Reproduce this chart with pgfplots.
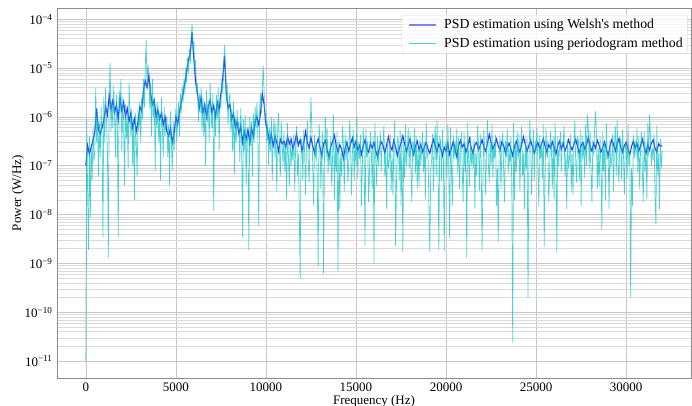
\documentclass[border=0pt]{standalone}
\usepackage{pgfplots}
\pgfplotsset{compat=1.18}
\usepackage{fontspec}
\setmainfont{Liberation Serif}

\definecolor{welchblue}{rgb}{0,0,1}
\definecolor{pgcyan}{rgb}{0,0.75,0.75}

\begin{document}
\fontsize{13}{15}\selectfont
\begin{tikzpicture}
\useasboundingbox (0,0) rectangle (692pt,406pt);
\begin{axis}[
    at={(57pt,28pt)}, anchor=south west,
    width=634pt, height=370pt, scale only axis,
    xmin=-1600, xmax=33600,
    ymode=log, ymin=4.5e-12, ymax=1.7e-4,
    xtick={0,5000,...,30000},
    scaled x ticks=false,
    xticklabel style={/pgf/number format/1000 sep={}, /pgf/number format/assume math mode=true},
    ytickten={-11,...,-4},
    yticklabels={10\textsuperscript{−11},10\textsuperscript{−10},10\textsuperscript{−9},10\textsuperscript{−8},10\textsuperscript{−7},10\textsuperscript{−6},10\textsuperscript{−5},10\textsuperscript{−4}},
    grid=both,
    major grid style={black!22, line width=0.6pt},
    minor grid style={black!14, line width=0.5pt},
    major tick length=0pt, minor tick length=0pt,
    axis line style={black!45, line width=0.8pt},
    xlabel={Frequency (Hz)}, ylabel={Power (W/Hz)},
    xlabel style={at={(axis description cs:0.5,-0.062)}, anchor=center},
    ylabel style={at={(axis description cs:-0.0615,0.5)}, anchor=center},
    legend style={at={(0.995,0.981)}, anchor=north east, draw=black!15,
        rounded corners=3pt, fill=white, fill opacity=0.8, text opacity=1,
        inner xsep=3pt, inner ysep=2pt, row sep=3pt, cells={anchor=west},
        font=\fontsize{13.8}{16}\selectfont},
    legend image code/.code={\draw[#1] (0pt,0pt) -- (27pt,0pt); \path (-3pt,0pt) (32pt,0pt);},
]
\addlegendimage{welchblue!50, line width=2.4pt}
\addlegendentry{PSD estimation using Welsh\textquotesingle s method}
\addlegendimage{pgcyan!70, line width=0.8pt}
\addlegendentry{PSD estimation using periodogram method}

% Welch estimate, 100 Hz spacing
\addplot[welchblue, opacity=0.8, line width=1.1pt, forget plot] coordinates {
(0,1.0e-7)(100,2.6e-7)(200,1.7e-7)(300,2.4e-7)(400,3.3e-7)(500,5.0e-7)(600,1.5e-6)(700,5.5e-7)(800,4.5e-7)(900,6.0e-7)
(1000,8.5e-7)(1100,1.6e-6)(1200,1.1e-6)(1300,2.8e-6)(1400,1.4e-6)(1500,2.2e-6)(1600,1.2e-6)(1700,1.8e-6)(1800,9.0e-7)(1900,2.5e-6)
(2000,1.3e-6)(2100,2.0e-6)(2200,1.0e-6)(2300,1.5e-6)(2400,8.0e-7)(2500,1.2e-6)(2600,6.0e-7)(2700,9.0e-7)(2800,5.0e-7)(2900,8.0e-7)
(3000,1.6e-6)(3100,1.3e-6)(3200,3.5e-6)(3300,5.5e-6)(3400,4.0e-6)(3500,7.0e-6)(3600,3.0e-6)(3700,1.8e-6)(3800,2.2e-6)(3900,1.0e-6)
(4000,1.4e-6)(4100,9.0e-7)(4200,1.2e-6)(4300,7.0e-7)(4400,1.0e-6)(4500,5.0e-7)(4600,4.0e-7)(4700,6.0e-7)(4800,3.0e-7)(4900,4.5e-7)
(5000,1.0e-6)(5100,7.0e-7)(5200,1.3e-6)(5300,2.0e-6)(5400,3.0e-6)(5500,5.0e-6)(5600,9.0e-6)(5700,1.5e-5)(5800,2.0e-5)(5900,5.5e-5)
(6000,1.5e-5)(6100,5.0e-6)(6200,3.0e-6)(6300,1.5e-6)(6400,2.5e-6)(6500,1.2e-6)(6600,1.8e-6)(6700,1.0e-6)(6800,1.6e-6)(6900,2.2e-6)
(7000,1.2e-6)(7100,1.7e-6)(7200,1.0e-6)(7300,2.0e-6)(7400,1.4e-6)(7500,3.0e-6)(7600,6.0e-6)(7700,1.8e-5)(7800,3.0e-6)(7900,1.5e-6)
(8000,1.8e-6)(8100,9.0e-7)(8200,1.2e-6)(8300,6.0e-7)(8400,8.0e-7)(8500,4.5e-7)(8600,6.5e-7)(8700,3.0e-7)(8800,5.0e-7)(8900,3.5e-7)
(9000,5.5e-7)(9100,3.0e-7)(9200,6.0e-7)(9300,4.0e-7)(9400,8.0e-7)(9500,1.0e-6)(9600,7.0e-7)(9700,1.2e-6)(9800,3.0e-6)(9900,1.8e-6)
(10000,7.0e-7)(10100,5.0e-7)(10200,3.0e-7)(10300,4.5e-7)(10400,2.5e-7)(10500,4.0e-7)(10600,3.0e-7)(10700,2.0e-7)(10800,3.5e-7)(10900,2.8e-7)
(11000,3.2e-7)(11100,2.4e-7)(11200,4.0e-7)(11300,2.8e-7)(11400,3.5e-7)(11500,2.2e-7)(11600,3.0e-7)(11700,4.5e-7)(11800,2.6e-7)(11900,3.4e-7)
(12000,2.0e-7)(12100,2.9e-7)(12200,5.0e-7)(12300,3.0e-7)(12400,2.3e-7)(12500,3.8e-7)(12600,2.5e-7)(12700,1.8e-7)(12800,2.7e-7)(12900,3.6e-7)
(13000,2.4e-7)(13100,1.6e-7)(13200,2.8e-7)(13300,3.3e-7)(13400,2.1e-7)(13500,1.5e-7)(13600,2.5e-7)(13700,3.1e-7)(13800,4.2e-7)(13900,2.6e-7)
(14000,1.9e-7)(14100,2.7e-7)(14200,2.2e-7)(14300,1.4e-7)(14400,2.3e-7)(14500,3.0e-7)(14600,2.0e-7)(14700,2.8e-7)(14800,3.7e-7)(14900,2.4e-7)
(15000,3.2e-7)(15100,2.1e-7)(15200,2.6e-7)(15300,1.7e-7)(15400,2.5e-7)(15500,3.4e-7)(15600,2.2e-7)(15700,1.9e-7)(15800,2.9e-7)(15900,2.3e-7)
(16000,3.0e-7)(16100,2.0e-7)(16200,1.5e-7)(16300,2.4e-7)(16400,3.1e-7)(16500,2.6e-7)(16600,1.8e-7)(16700,2.7e-7)(16800,3.9e-7)(16900,2.5e-7)
(17000,2.1e-7)(17100,3.3e-7)(17200,2.4e-7)(17300,1.6e-7)(17400,2.2e-7)(17500,2.9e-7)(17600,4.1e-7)(17700,2.8e-7)(17800,2.0e-7)(17900,2.6e-7)
(18000,3.5e-7)(18100,2.3e-7)(18200,1.7e-7)(18300,2.5e-7)(18400,3.2e-7)(18500,2.1e-7)(18600,2.7e-7)(18700,1.9e-7)(18800,2.4e-7)(18900,3.0e-7)
(19000,2.2e-7)(19100,1.8e-7)(19200,2.6e-7)(19300,3.4e-7)(19400,2.5e-7)(19500,1.9e-7)(19600,2.8e-7)(19700,2.3e-7)(19800,1.6e-7)(19900,2.4e-7)
(20000,2.0e-7)(20100,2.9e-7)(20200,1.7e-7)(20300,2.3e-7)(20400,3.1e-7)(20500,2.2e-7)(20600,1.5e-7)(20700,2.6e-7)(20800,3.3e-7)(20900,2.4e-7)
(21000,2.8e-7)(21100,1.9e-7)(21200,2.5e-7)(21300,3.6e-7)(21400,2.3e-7)(21500,1.8e-7)(21600,2.7e-7)(21700,3.0e-7)(21800,2.1e-7)(21900,2.6e-7)
(22000,3.4e-7)(22100,2.4e-7)(22200,2.0e-7)(22300,2.9e-7)(22400,4.4e-7)(22500,3.0e-7)(22600,2.2e-7)(22700,2.7e-7)(22800,3.5e-7)(22900,2.5e-7)
(23000,2.1e-7)(23100,3.1e-7)(23200,2.6e-7)(23300,1.8e-7)(23400,2.4e-7)(23500,2.9e-7)(23600,2.2e-7)(23700,1.6e-7)(23800,2.5e-7)(23900,3.2e-7)
(24000,2.3e-7)(24100,1.9e-7)(24200,2.8e-7)(24300,3.9e-7)(24400,2.7e-7)(24500,2.0e-7)(24600,2.6e-7)(24700,3.3e-7)(24800,2.4e-7)(24900,1.8e-7)
(25000,2.5e-7)(25100,3.0e-7)(25200,2.2e-7)(25300,2.8e-7)(25400,3.6e-7)(25500,2.5e-7)(25600,1.9e-7)(25700,2.7e-7)(25800,2.3e-7)(25900,3.1e-7)
(26000,2.4e-7)(26100,1.7e-7)(26200,2.6e-7)(26300,3.2e-7)(26400,2.2e-7)(26500,2.9e-7)(26600,2.0e-7)(26700,2.5e-7)(26800,3.4e-7)(26900,2.6e-7)
(27000,2.1e-7)(27100,2.8e-7)(27200,3.5e-7)(27300,2.4e-7)(27400,1.8e-7)(27500,2.6e-7)(27600,3.0e-7)(27700,2.2e-7)(27800,2.7e-7)(27900,3.8e-7)
(28000,2.5e-7)(28100,2.0e-7)(28200,2.9e-7)(28300,2.3e-7)(28400,3.3e-7)(28500,2.6e-7)(28600,1.9e-7)(28700,2.4e-7)(28800,3.1e-7)(28900,2.2e-7)
(29000,1.6e-7)(29100,2.5e-7)(29200,3.4e-7)(29300,2.7e-7)(29400,2.0e-7)(29500,2.8e-7)(29600,3.6e-7)(29700,2.4e-7)(29800,1.9e-7)(29900,2.6e-7)
(30000,3.0e-7)(30100,2.2e-7)(30200,1.7e-7)(30300,2.5e-7)(30400,3.2e-7)(30500,2.3e-7)(30600,2.8e-7)(30700,2.0e-7)(30800,2.6e-7)(30900,3.5e-7)
(31000,2.4e-7)(31100,1.8e-7)(31200,2.7e-7)(31300,2.1e-7)(31400,2.9e-7)(31500,3.4e-7)(31600,2.3e-7)(31700,1.9e-7)(31800,2.8e-7)(31900,2.5e-7)
(32000,2.6e-7)
};

% periodogram, 50 Hz spacing
\addplot[pgcyan, opacity=0.7, line width=0.7pt, forget plot] coordinates {
(0,1.0e-11)(50,9.0e-7)(100,3.0e-8)(150,1.9e-9)(200,4.0e-7)(250,9.0e-9)(300,2.5e-7)(350,5.0e-8)(400,6.0e-7)(450,1.2e-7)
(500,2.0e-7)(550,4.0e-6)(600,3.0e-7)(650,1.2e-6)(700,6.0e-8)(750,8.0e-7)(800,1.5e-7)(850,1.6e-6)(900,4.0e-7)(950,3.4e-9)
(1000,2.5e-6)(1050,3.0e-7)(1100,4.0e-6)(1150,8.0e-7)(1200,2.0e-7)(1250,1.3e-9)(1300,3.0e-6)(1350,1.3e-5)(1400,5.0e-7)(1450,2.2e-6)
(1500,6.0e-7)(1550,4.5e-6)(1600,1.0e-6)(1650,1.5e-7)(1700,2.8e-6)(1750,7.0e-7)(1800,3.4e-9)(1850,3.5e-6)(1900,1.2e-6)(1950,6.0e-6)
(2000,2.0e-7)(2050,2.5e-6)(2100,8.0e-7)(2150,4.0e-8)(2200,1.8e-6)(2250,3.5e-7)(2300,1.1e-6)(2350,9.0e-8)(2400,5.0e-6)(2450,1.5e-6)
(2500,4.0e-7)(2550,1.5e-6)(2600,1.0e-7)(2650,9.0e-7)(2700,2.0e-8)(2750,1.2e-6)(2800,3.0e-7)(2850,6.0e-8)(2900,1.4e-6)(2950,5.0e-7)
(3000,2.0e-6)(3050,3.0e-7)(3100,2.5e-6)(3150,9.0e-7)(3200,6.0e-6)(3250,1.5e-6)(3300,1.0e-5)(3350,3.8e-5)(3400,4.0e-6)(3450,1.2e-5)
(3500,7.0e-6)(3550,1.5e-6)(3600,5.0e-6)(3650,4.0e-7)(3700,6.0e-6)(3750,1.0e-6)(3800,2.5e-6)(3850,8.0e-8)(3900,1.8e-6)(3950,6.0e-7)
(4000,2.0e-6)(4050,3.0e-7)(4100,1.2e-6)(4150,5.0e-8)(4200,2.5e-6)(4250,6.0e-7)(4300,1.5e-7)(4350,1.6e-6)(4400,4.0e-7)(4450,9.0e-7)
(4500,1.0e-6)(4550,1.5e-7)(4600,7.0e-7)(4650,4.0e-8)(4700,1.3e-6)(4750,3.0e-7)(4800,8.0e-8)(4850,8.0e-7)(4900,2.0e-7)(4950,5.0e-7)
(5000,1.5e-6)(5050,3.0e-7)(5100,1.0e-6)(5150,2.0e-6)(5200,4.0e-7)(5250,3.0e-6)(5300,1.2e-6)(5350,4.5e-6)(5400,2.0e-6)(5450,6.0e-6)
(5500,3.0e-6)(5550,1.0e-5)(5600,5.0e-6)(5650,1.6e-5)(5700,8.0e-6)(5750,2.5e-5)(5800,1.2e-5)(5850,4.0e-5)(5900,8.0e-5)(5950,2.0e-5)
(6000,3.5e-5)(6050,8.0e-6)(6100,1.5e-5)(6150,3.0e-6)(6200,5.0e-6)(6250,8.0e-7)(6300,3.0e-6)(6350,1.2e-6)(6400,4.0e-6)(6450,5.0e-7)
(6500,2.5e-6)(6550,4.0e-7)(6600,1.8e-6)(6650,1.0e-7)(6700,3.5e-6)(6750,8.0e-7)(6800,2.2e-6)(6850,3.0e-7)(6900,5.0e-6)(6950,1.2e-6)
(7000,6.0e-7)(7050,3.0e-6)(7100,1.2e-8)(7150,1.5e-6)(7200,4.0e-7)(7250,2.8e-6)(7300,9.0e-7)(7350,4.0e-6)(7400,2.0e-7)(7450,2.5e-6)
(7500,1.5e-6)(7550,6.0e-6)(7600,3.0e-6)(7650,1.0e-5)(7700,3.0e-5)(7750,1.2e-5)(7800,2.0e-6)(7850,5.0e-6)(7900,7.0e-7)(7950,2.2e-6)
(8000,3.0e-6)(8050,5.0e-7)(8100,1.5e-6)(8150,2.0e-7)(8200,2.0e-6)(8250,7.0e-8)(8300,1.0e-6)(8350,3.0e-7)(8400,1.4e-6)(8450,5.0e-7)
(8500,8.0e-7)(8550,1.2e-7)(8600,1.5e-6)(8650,4.0e-7)(8700,3.4e-9)(8750,9.0e-7)(8800,2.0e-7)(8850,1.1e-6)(8900,4.0e-8)(8950,6.0e-7)
(9000,3.0e-7)(9050,1.9e-9)(9100,1.0e-6)(9150,2.5e-7)(9200,8.0e-7)(9250,6.0e-8)(9300,1.2e-6)(9350,3.0e-7)(9400,1.6e-6)(9450,5.0e-7)
(9500,2.0e-6)(9550,4.0e-7)(9600,6.0e-9)(9650,1.5e-6)(9700,3.0e-6)(9750,1.2e-6)(9800,4.0e-6)(9850,1.1e-5)(9900,3.0e-6)(9950,8.0e-7)
(10000,1.2e-6)(10050,3.0e-7)(10100,8.0e-7)(10150,1.0e-7)(10200,6.0e-7)(10250,2.0e-7)(10300,1.0e-6)(10350,5.0e-8)(10400,4.0e-7)(10450,9.0e-7)
(10500,1.5e-7)(10550,7.0e-7)(10600,3.0e-8)(10650,5.0e-7)(10700,1.2e-6)(10750,2.0e-7)(10800,6.0e-8)(10850,8.0e-7)(10900,3.0e-7)(10950,1.0e-7)
(11000,5.0e-7)(11050,7.5e-8)(11100,3.0e-7)(11150,2.0e-8)(11200,7.5e-7)(11250,1.5e-7)(11300,3.8e-8)(11350,4.0e-7)(11400,1.0e-7)(11450,2.3e-7)
(11500,1.3e-7)(11550,4.5e-7)(11600,3.0e-8)(11650,2.8e-7)(11700,6.5e-7)(11750,6.3e-8)(11800,1.8e-7)(11850,1.3e-8)(11900,4.8e-10)(11950,3.5e-7)
(12000,3.3e-7)(12050,5.0e-8)(12100,5.5e-7)(12150,1.8e-7)(12200,2.5e-8)(12250,2.5e-7)(12300,8.5e-7)(12350,1.1e-7)(12400,4.5e-8)(12450,3.8e-7)
(12500,2.5e-6)(12550,6.0e-7)(12600,8.8e-8)(12650,1.5e-8)(12700,4.3e-7)(12750,1.4e-7)(12800,3.0e-7)(12850,5.5e-8)(12900,8.7e-10)(12950,7.0e-7)
(13000,4.0e-7)(13050,3.3e-8)(13100,2.3e-7)(13150,5.0e-7)(13200,6.3e-10)(13250,1.8e-7)(13300,1.0e-6)(13350,1.5e-7)(13400,5.8e-7)(13450,7.0e-8)
(13500,2.3e-7)(13550,1.0e-7)(13600,4.0e-7)(13650,3.8e-8)(13700,1.5e-7)(13750,1.1e-6)(13800,2.0e-8)(13850,3.0e-7)(13900,7.5e-8)(13950,5.0e-7)
(14000,6.9e-10)(14050,3.5e-7)(14100,1.3e-8)(14150,1.8e-7)(14200,6.3e-8)(14250,6.5e-7)(14300,2.8e-7)(14350,3.0e-8)(14400,4.5e-7)(14450,1.3e-7)
(14500,3.8e-7)(14550,4.5e-8)(14600,1.1e-7)(14650,8.5e-7)(14700,2.5e-7)(14750,2.5e-8)(14800,1.8e-7)(14850,5.5e-7)(14900,5.0e-8)(14950,3.3e-7)
(15000,1.0e-7)(15050,1.0e-6)(15100,5.5e-8)(15150,3.0e-7)(15200,1.4e-7)(15250,4.3e-7)(15300,1.5e-8)(15350,8.8e-8)(15400,6.0e-7)(15450,2.0e-7)
(15500,2.3e-9)(15550,5.8e-7)(15600,1.5e-7)(15650,3.3e-7)(15700,1.8e-8)(15750,7.5e-8)(15800,5.0e-7)(15850,2.3e-7)(15900,3.3e-8)(15950,4.0e-7)
(16000,1.0e-9)(16050,7.5e-7)(16100,1.5e-7)(16150,3.8e-8)(16200,4.0e-7)(16250,1.0e-7)(16300,2.3e-7)(16350,5.0e-7)(16400,7.5e-8)(16450,3.0e-7)
(16500,2.8e-7)(16550,6.5e-7)(16600,6.3e-8)(16650,1.8e-7)(16700,1.3e-8)(16750,3.5e-7)(16800,8.8e-8)(16850,1.3e-7)(16900,4.5e-7)(16950,3.0e-8)
(17000,1.8e-7)(17050,2.5e-8)(17100,2.5e-7)(17150,8.5e-7)(17200,2.2e-9)(17250,4.5e-8)(17300,3.8e-7)(17350,3.3e-7)(17400,5.0e-8)(17450,5.5e-7)
(17500,1.5e-8)(17550,4.3e-7)(17600,1.7e-9)(17650,3.0e-7)(17700,5.5e-8)(17750,7.0e-7)(17800,1.0e-7)(17850,2.0e-7)(17900,6.0e-7)(17950,8.8e-8)
(18000,5.0e-7)(18050,7.5e-8)(18100,1.8e-8)(18150,3.3e-7)(18200,1.5e-7)(18250,5.8e-7)(18300,7.0e-8)(18350,4.0e-7)(18400,3.3e-8)(18450,2.3e-7)
(18500,3.8e-8)(18550,4.0e-7)(18600,1.0e-7)(18650,2.3e-7)(18700,5.0e-7)(18750,7.5e-8)(18800,3.0e-7)(18850,2.0e-8)(18900,7.5e-7)(18950,1.5e-7)
(19000,1.8e-7)(19050,1.3e-8)(19100,1.7e-9)(19150,8.8e-8)(19200,1.3e-7)(19250,4.5e-7)(19300,3.0e-8)(19350,2.8e-7)(19400,6.5e-7)(19450,6.3e-8)
(19500,8.5e-7)(19550,1.1e-7)(19600,1.9e-9)(19650,3.8e-7)(19700,3.3e-7)(19750,5.0e-8)(19800,5.5e-7)(19850,1.8e-7)(19900,1.8e-9)(19950,2.5e-7)
(20000,3.0e-7)(20050,5.5e-8)(20100,7.0e-7)(20150,1.0e-7)(20200,3.2e-9)(20250,6.0e-7)(20300,8.8e-8)(20350,1.5e-8)(20400,4.3e-7)(20450,1.4e-7)
(20500,3.3e-7)(20550,1.5e-7)(20600,5.8e-7)(20650,7.0e-8)(20700,4.0e-7)(20750,3.3e-8)(20800,2.3e-7)(20850,5.0e-7)(20900,7.5e-8)(20950,1.8e-8)
(21000,5.0e-7)(21050,7.5e-8)(21100,3.0e-7)(21150,1.3e-9)(21200,7.5e-7)(21250,1.5e-7)(21300,3.8e-8)(21350,4.0e-7)(21400,1.0e-7)(21450,2.3e-7)
(21500,8.8e-8)(21550,3.5e-7)(21600,1.3e-8)(21650,1.8e-7)(21700,6.3e-8)(21750,6.5e-7)(21800,2.8e-7)(21850,3.0e-8)(21900,4.5e-7)(21950,1.3e-7)
(22000,1.8e-9)(22050,5.0e-8)(22100,5.5e-7)(22150,1.8e-7)(22200,2.5e-8)(22250,2.5e-7)(22300,8.5e-7)(22350,1.1e-7)(22400,4.5e-8)(22450,3.8e-7)
(22500,1.0e-7)(22550,7.0e-7)(22600,5.5e-8)(22650,3.0e-7)(22700,1.4e-7)(22750,4.3e-7)(22800,1.5e-8)(22850,8.8e-8)(22900,2.8e-9)(22950,2.0e-7)
(23000,4.0e-7)(23050,3.3e-8)(23100,2.3e-7)(23150,5.0e-7)(23200,7.5e-8)(23250,1.8e-8)(23300,3.3e-7)(23350,1.5e-7)(23400,5.8e-7)(23450,7.0e-8)
(23500,2.3e-7)(23550,1.0e-7)(23600,4.0e-7)(23650,3.8e-8)(23700,2.4e-11)(23750,7.5e-7)(23800,2.0e-8)(23850,3.0e-7)(23900,7.5e-8)(23950,5.0e-7)
(24000,1.3e-7)(24050,4.5e-7)(24100,3.0e-8)(24150,2.8e-7)(24200,6.5e-7)(24250,6.3e-8)(24300,1.8e-7)(24350,1.3e-8)(24400,3.5e-7)(24450,8.8e-8)
(24500,3.8e-7)(24550,2.0e-10)(24600,1.1e-7)(24650,8.5e-7)(24700,2.5e-7)(24750,2.5e-8)(24800,1.8e-7)(24850,5.5e-7)(24900,5.0e-8)(24950,3.3e-7)
(25000,2.0e-7)(25050,6.0e-7)(25100,8.8e-8)(25150,1.5e-8)(25200,4.3e-7)(25250,1.4e-7)(25300,3.0e-7)(25350,5.5e-8)(25400,7.0e-7)(25450,2.2e-9)
(25500,7.0e-8)(25550,5.8e-7)(25600,1.5e-7)(25650,3.3e-7)(25700,1.8e-8)(25750,7.5e-8)(25800,5.0e-7)(25850,2.3e-7)(25900,3.3e-8)(25950,4.0e-7)
(26000,2.0e-8)(26050,7.5e-7)(26100,1.5e-7)(26150,1.7e-9)(26200,4.0e-7)(26250,1.0e-7)(26300,2.3e-7)(26350,5.0e-7)(26400,7.5e-8)(26450,3.0e-7)
(26500,2.8e-7)(26550,6.5e-7)(26600,6.3e-8)(26650,1.8e-7)(26700,1.3e-8)(26750,3.5e-7)(26800,8.8e-8)(26850,1.3e-7)(26900,4.5e-7)(26950,3.0e-8)
(27000,1.8e-7)(27050,2.5e-8)(27100,2.5e-7)(27150,8.5e-7)(27200,1.1e-7)(27250,4.5e-8)(27300,3.8e-7)(27350,3.3e-7)(27400,5.0e-8)(27450,5.5e-7)
(27500,1.5e-8)(27550,4.3e-7)(27600,1.4e-7)(27650,3.0e-7)(27700,5.5e-8)(27750,7.0e-7)(27800,1.0e-7)(27850,1.1e-6)(27900,6.0e-7)(27950,8.8e-8)
(28000,5.0e-7)(28050,7.5e-8)(28100,1.8e-8)(28150,3.3e-7)(28200,1.5e-7)(28250,5.8e-7)(28300,1.3e-6)(28350,4.0e-7)(28400,3.3e-8)(28450,2.3e-7)
(28500,3.8e-8)(28550,4.0e-7)(28600,1.0e-7)(28650,5.0e-9)(28700,5.0e-7)(28750,7.5e-8)(28800,3.0e-7)(28850,2.0e-8)(28900,7.5e-7)(28950,1.5e-7)
(29000,1.8e-7)(29050,1.3e-8)(29100,3.5e-7)(29150,8.8e-8)(29200,1.3e-7)(29250,4.5e-7)(29300,3.0e-8)(29350,2.8e-7)(29400,6.5e-7)(29450,6.3e-8)
(29500,8.5e-7)(29550,1.1e-7)(29600,4.5e-8)(29650,3.8e-7)(29700,3.3e-7)(29750,5.0e-8)(29800,5.5e-7)(29850,1.8e-7)(29900,2.5e-8)(29950,2.5e-7)
(30000,3.0e-7)(30050,5.5e-8)(30100,7.0e-7)(30150,1.0e-7)(30200,2.0e-7)(30250,2.0e-10)(30300,8.8e-8)(30350,1.5e-8)(30400,4.3e-7)(30450,1.4e-7)
(30500,3.3e-7)(30550,1.5e-7)(30600,5.8e-7)(30650,7.0e-8)(30700,4.0e-7)(30750,3.3e-8)(30800,2.3e-7)(30850,5.0e-7)(30900,7.5e-8)(30950,1.8e-8)
(31000,5.0e-7)(31050,7.5e-8)(31100,3.0e-7)(31150,2.0e-8)(31200,7.5e-7)(31250,1.5e-7)(31300,1.1e-6)(31350,4.0e-7)(31400,1.0e-7)(31450,2.3e-7)
(31500,1.3e-7)(31550,4.5e-7)(31600,3.0e-8)(31650,6.3e-9)(31700,6.5e-7)(31750,6.3e-8)(31800,1.8e-7)(31850,1.3e-8)(31900,3.5e-7)(31950,8.8e-8)
(32000,2.0e-7)
};
\end{axis}
\end{tikzpicture}
\end{document}
